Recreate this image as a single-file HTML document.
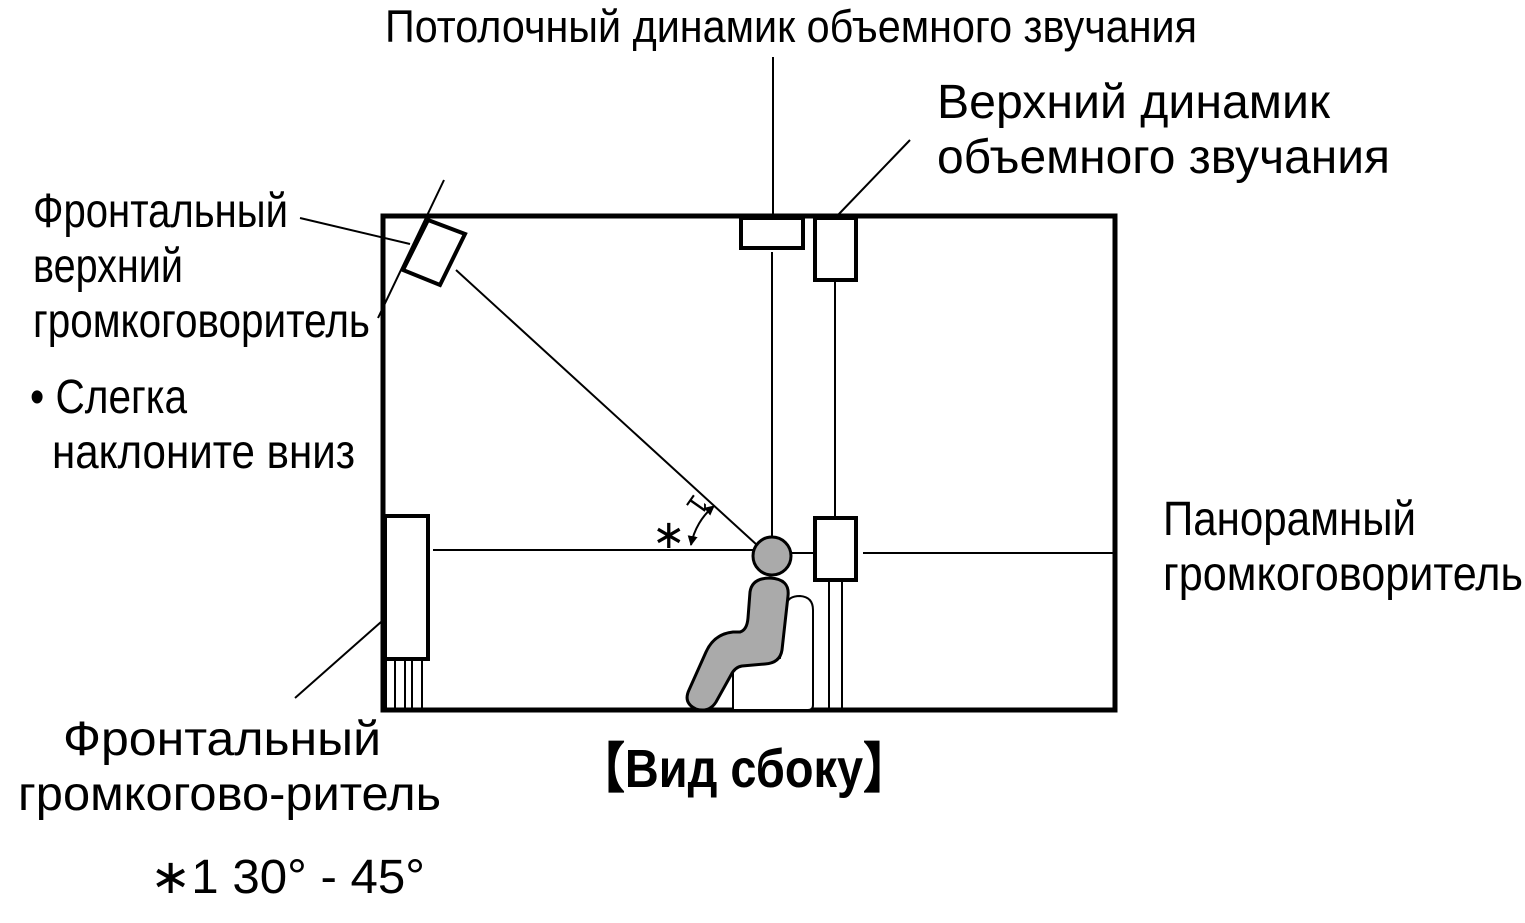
<!DOCTYPE html>
<html><head><meta charset="utf-8"><style>
html,body{margin:0;padding:0;background:#fff;}
svg{display:block;}
text{font-family:"Liberation Sans",sans-serif;fill:#000;}
</style></head><body>
<svg width="1525" height="923" viewBox="0 0 1525 923" xmlns="http://www.w3.org/2000/svg">
<defs>
<marker id="ah" viewBox="0 0 10 10" refX="9" refY="5" markerWidth="5" markerHeight="5" orient="auto-start-reverse"><path d="M0,0 L10,5 L0,10 z" fill="#000"/></marker>
</defs>
<rect x="383" y="216" width="732" height="494" fill="none" stroke="#000" stroke-width="5"/>
<line x1="773" y1="57" x2="773" y2="216" stroke="#000" stroke-width="2"/>
<line x1="910" y1="140" x2="838" y2="215" stroke="#000" stroke-width="2"/>
<rect x="741" y="218" width="62" height="30" fill="#fff" stroke="#000" stroke-width="4"/>
<line x1="772" y1="252" x2="772" y2="540" stroke="#000" stroke-width="2"/>
<rect x="815" y="218" width="41" height="62" fill="#fff" stroke="#000" stroke-width="4"/>
<line x1="835" y1="281" x2="835" y2="518" stroke="#000" stroke-width="2"/>
<polygon points="428,220 465,234 440,285 403,270" fill="#fff" stroke="#000" stroke-width="4"/>
<line x1="444" y1="180" x2="378" y2="318" stroke="#000" stroke-width="2"/>
<line x1="300" y1="218" x2="410" y2="244" stroke="#000" stroke-width="2"/>
<line x1="456" y1="270" x2="757" y2="545" stroke="#000" stroke-width="2"/>
<rect x="385" y="516" width="43" height="143" fill="#fff" stroke="#000" stroke-width="4"/>
<g stroke="#000" stroke-width="2">
<line x1="386" y1="660" x2="386" y2="710"/><line x1="395" y1="660" x2="395" y2="710"/><line x1="405" y1="660" x2="405" y2="710"/><line x1="412" y1="660" x2="412" y2="710"/><line x1="422" y1="660" x2="422" y2="710"/>
</g>
<line x1="295" y1="698" x2="381" y2="622" stroke="#000" stroke-width="2"/>
<line x1="433" y1="550" x2="757" y2="550" stroke="#000" stroke-width="2"/>
<path d="M691,545 A66,66 0 0 1 714,506" fill="none" stroke="#000" stroke-width="2" marker-start="url(#ah)" marker-end="url(#ah)"/>
<text x="652" y="548" font-size="40">∗</text>
<text x="0" y="10" font-size="28" text-anchor="middle" transform="translate(698,505) rotate(125)">1</text>
<line x1="790" y1="553" x2="815" y2="553" stroke="#000" stroke-width="2"/>
<line x1="863" y1="553" x2="1113" y2="553" stroke="#000" stroke-width="2"/>
<line x1="829" y1="580" x2="829" y2="710" stroke="#000" stroke-width="2"/>
<line x1="842" y1="580" x2="842" y2="710" stroke="#000" stroke-width="2"/>
<rect x="815" y="518" width="41" height="62" fill="#fff" stroke="#000" stroke-width="4"/>
<path d="M733,710 L733,670 Q735,662 745,661 L780,658 L786,605 Q788,596 800,596 Q813,597 813,610 L813,705 Q813,710 808,710 Z" fill="#fff" stroke="#000" stroke-width="2"/>
<path d="M750,592 Q752,578 770,578 Q790,579 788,596 L782,650 Q780,663 765,664 L742,666 Q735,667 731,675 L716,702 Q709,713 696,709 Q683,703 689,690 L706,652 Q714,634 733,632 L740,632 Q747,630 748,618 Z" fill="#aaa" stroke="#000" stroke-width="3"/>
<circle cx="772" cy="556" r="19" fill="#aaa" stroke="#000" stroke-width="3"/>
<text x="385" y="42" font-size="45" textLength="812" lengthAdjust="spacingAndGlyphs">Потолочный динамик объемного звучания</text>
<text x="937" y="118" font-size="48" textLength="393" lengthAdjust="spacingAndGlyphs">Верхний динамик</text>
<text x="937" y="173" font-size="48" textLength="453" lengthAdjust="spacingAndGlyphs">объемного звучания</text>
<text x="33" y="227" font-size="48" textLength="255" lengthAdjust="spacingAndGlyphs">Фронтальный</text>
<text x="33" y="282" font-size="48" textLength="150" lengthAdjust="spacingAndGlyphs">верхний</text>
<text x="33" y="337" font-size="48" textLength="337" lengthAdjust="spacingAndGlyphs">громкоговоритель</text>
<text x="30" y="413" font-size="48" textLength="157" lengthAdjust="spacingAndGlyphs">• Слегка</text>
<text x="52" y="468" font-size="48" textLength="303" lengthAdjust="spacingAndGlyphs">наклоните вниз</text>
<text x="1163" y="535" font-size="48" textLength="253" lengthAdjust="spacingAndGlyphs">Панорамный</text>
<text x="1163" y="590" font-size="48" textLength="360" lengthAdjust="spacingAndGlyphs">громкоговоритель</text>
<text x="63" y="755" font-size="48" textLength="318" lengthAdjust="spacingAndGlyphs">Фронтальный</text>
<text x="18" y="810" font-size="48" textLength="423" lengthAdjust="spacingAndGlyphs">громкогово-ритель</text>
<text x="578" y="787" font-size="54" font-weight="bold" textLength="332" lengthAdjust="spacingAndGlyphs">【Вид сбоку】</text>
<text x="150" y="893" font-size="48" textLength="275" lengthAdjust="spacingAndGlyphs">∗1 30° - 45°</text>
</svg>
</body></html>
